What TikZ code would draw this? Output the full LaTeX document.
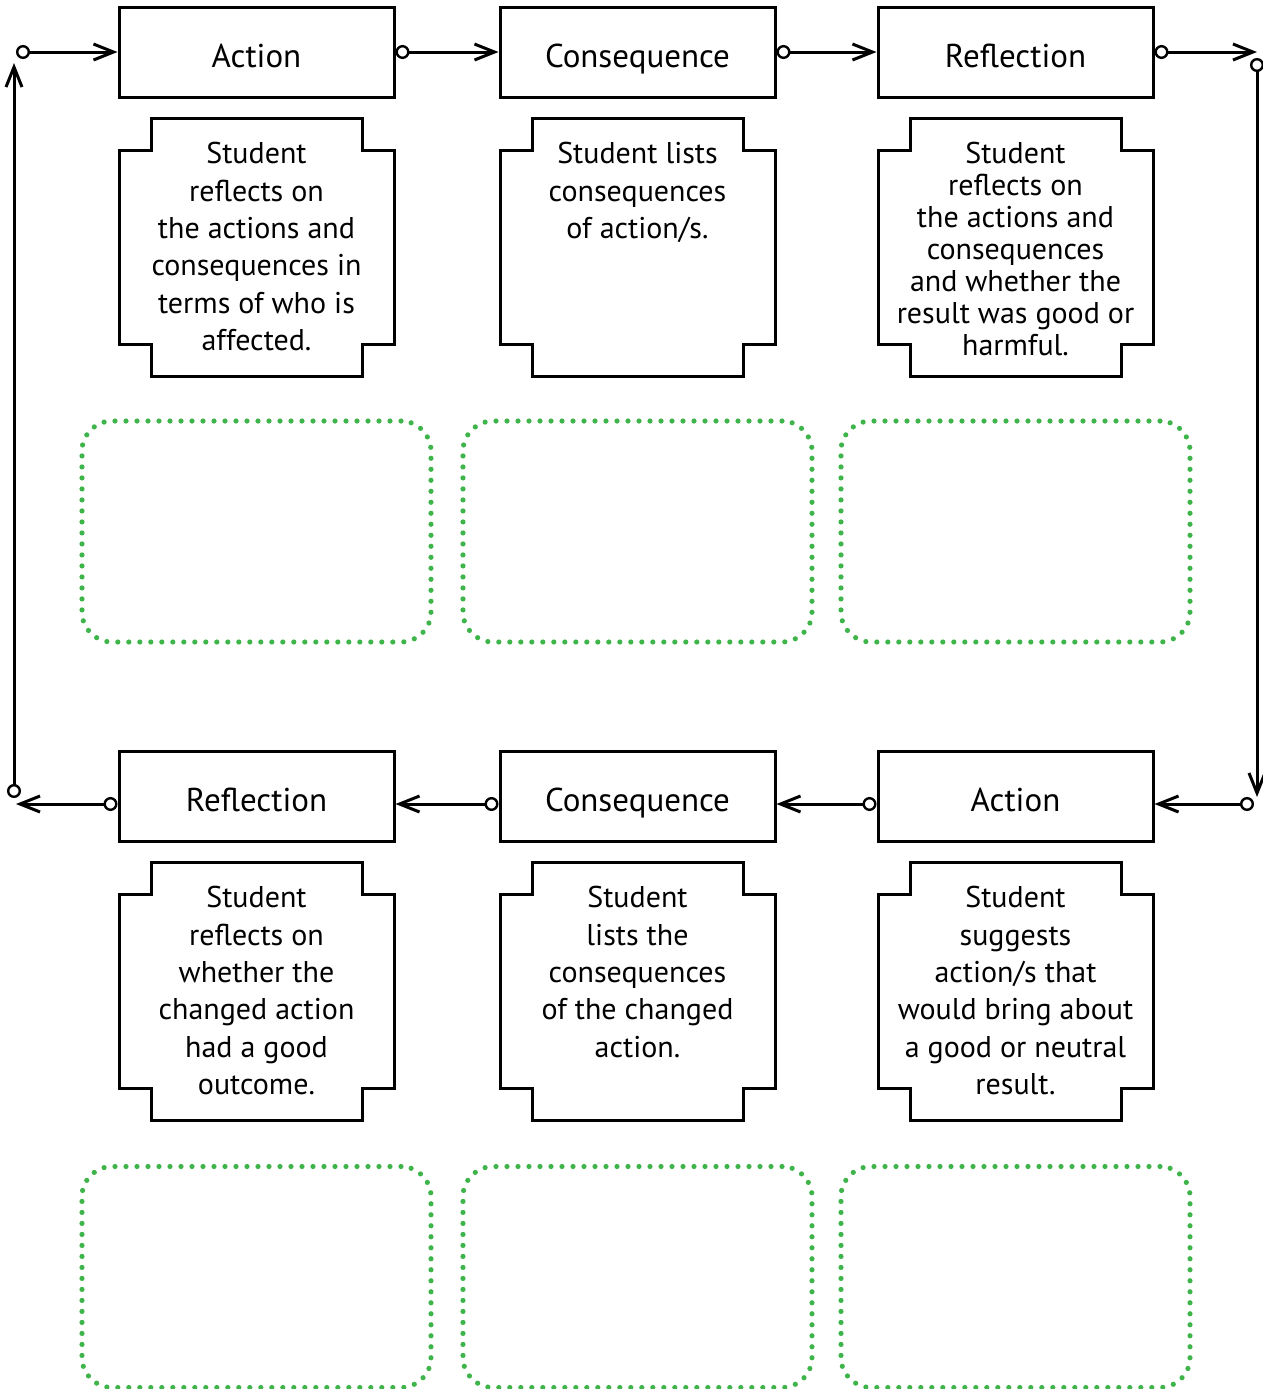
\documentclass[tikz,border=0pt]{standalone}
\usepackage{fontspec}
\setmainfont{PT Sans}
\usetikzlibrary{arrows.meta}
\definecolor{notegreen}{RGB}{62,180,74}
\tikzset{
  stage/.style={draw, line width=1.5pt, minimum width=137.5pt, minimum height=45pt, inner sep=0pt, text height=15pt, text depth=0pt, font=\fontsize{16.5}{19}\selectfont},
  summary/.style={align=center, anchor=north, inner sep=0pt, font=\fontsize{15}{18.7}\selectfont},
  outline/.style={line width=1.5pt, line join=miter},
  flow/.style={line width=1.5pt, {Circle[open,length=7pt,line width=1.2pt]}-{Straight Barb[length=10pt,width=8pt]}},
  note/.style={draw=notegreen, line width=2.6pt, line cap=round, dash pattern=on 0pt off 5.5pt, rounded corners=15pt, minimum width=174.5pt, minimum height=110.5pt}
}
\begin{document}
\begin{tikzpicture}[x=0.5pt, y=-0.5pt]
\useasboundingbox (0,0) rectangle (1263,1389);
% first round
\node[stage] (act1) at (256.5,52){Action};
\node[stage] (cons1) at (637.5,52){Consequence};
\node[stage] (refl1) at (1015.5,52){Reflection};
\draw[outline] (151,118) -- ++(211,0) -- ++(0,32) -- ++(32,0) -- ++(0,194) -- ++(-32,0) -- ++(0,32) -- ++(-211,0) -- ++(0,-32) -- ++(-32,0) -- ++(0,-194) -- ++(32,0) -- cycle;
\draw[outline] (532,118) -- ++(211,0) -- ++(0,32) -- ++(32,0) -- ++(0,194) -- ++(-32,0) -- ++(0,32) -- ++(-211,0) -- ++(0,-32) -- ++(-32,0) -- ++(0,-194) -- ++(32,0) -- cycle;
\draw[outline] (910,118) -- ++(211,0) -- ++(0,32) -- ++(32,0) -- ++(0,194) -- ++(-32,0) -- ++(0,32) -- ++(-211,0) -- ++(0,-32) -- ++(-32,0) -- ++(0,-194) -- ++(32,0) -- cycle;
\node[summary] (sum1) at (256.5,142){Student\\reflects on\\the actions and\\consequences in\\terms of who is\\affected.};
\node[summary] (sum2) at (637.5,142){Student lists\\consequences\\of action/s.};
\node[summary, font=\fontsize{15}{16}\selectfont] (sum3) at (1015.5,142){Student\\reflects on\\the actions and\\consequences\\and whether the\\result was good or\\harmful.};
\node[note] (note1) at (256.5,531.5){};
\node[note] (note2) at (637.5,531.5){};
\node[note] (note3) at (1015.5,531.5){};
% second round
\node[stage] (actB) at (1015.5,796){Action};
\node[stage] (consB) at (637.5,796){Consequence};
\node[stage] (reflB) at (256.5,796){Reflection};
\draw[outline] (151,862) -- ++(211,0) -- ++(0,32) -- ++(32,0) -- ++(0,194) -- ++(-32,0) -- ++(0,32) -- ++(-211,0) -- ++(0,-32) -- ++(-32,0) -- ++(0,-194) -- ++(32,0) -- cycle;
\draw[outline] (532,862) -- ++(211,0) -- ++(0,32) -- ++(32,0) -- ++(0,194) -- ++(-32,0) -- ++(0,32) -- ++(-211,0) -- ++(0,-32) -- ++(-32,0) -- ++(0,-194) -- ++(32,0) -- cycle;
\draw[outline] (910,862) -- ++(211,0) -- ++(0,32) -- ++(32,0) -- ++(0,194) -- ++(-32,0) -- ++(0,32) -- ++(-211,0) -- ++(0,-32) -- ++(-32,0) -- ++(0,-194) -- ++(32,0) -- cycle;
\node[summary] (sumB1) at (256.5,886){Student\\reflects on\\whether the\\changed action\\had a good\\outcome.};
\node[summary] (sumB2) at (637.5,886){Student\\lists the\\consequences\\of the changed\\action.};
\node[summary] (sumB3) at (1015.5,886){Student\\suggests\\action/s that\\would bring about\\a good or neutral\\result.};
\node[note] (noteB1) at (256.5,1277){};
\node[note] (noteB2) at (637.5,1277){};
\node[note] (noteB3) at (1015.5,1277){};
% loop
\coordinate (tl) at (16,52);
\coordinate (tr) at (1257,52);
\coordinate (rtop) at (1257,58);
\coordinate (rbot) at (1257,797);
\coordinate (br) at (1254,804);
\coordinate (bl) at (16,804);
\coordinate (lbot) at (14,798);
\coordinate (ltop) at (14,63);
\draw[flow](tl) -- (act1.west);
\draw[flow](act1.east) -- (cons1.west);
\draw[flow](cons1.east) -- (refl1.west);
\draw[flow](refl1.east) -- (tr);
\draw[flow](rtop) -- (rbot);
\draw[flow](br) -- (actB.east |- br);
\draw[flow](actB.west |- br) -- (consB.east |- br);
\draw[flow](consB.west |- br) -- (reflB.east |- br);
\draw[flow](reflB.west |- br) -- (bl);
\draw[flow](lbot) -- (ltop);
\end{tikzpicture}
\end{document}
